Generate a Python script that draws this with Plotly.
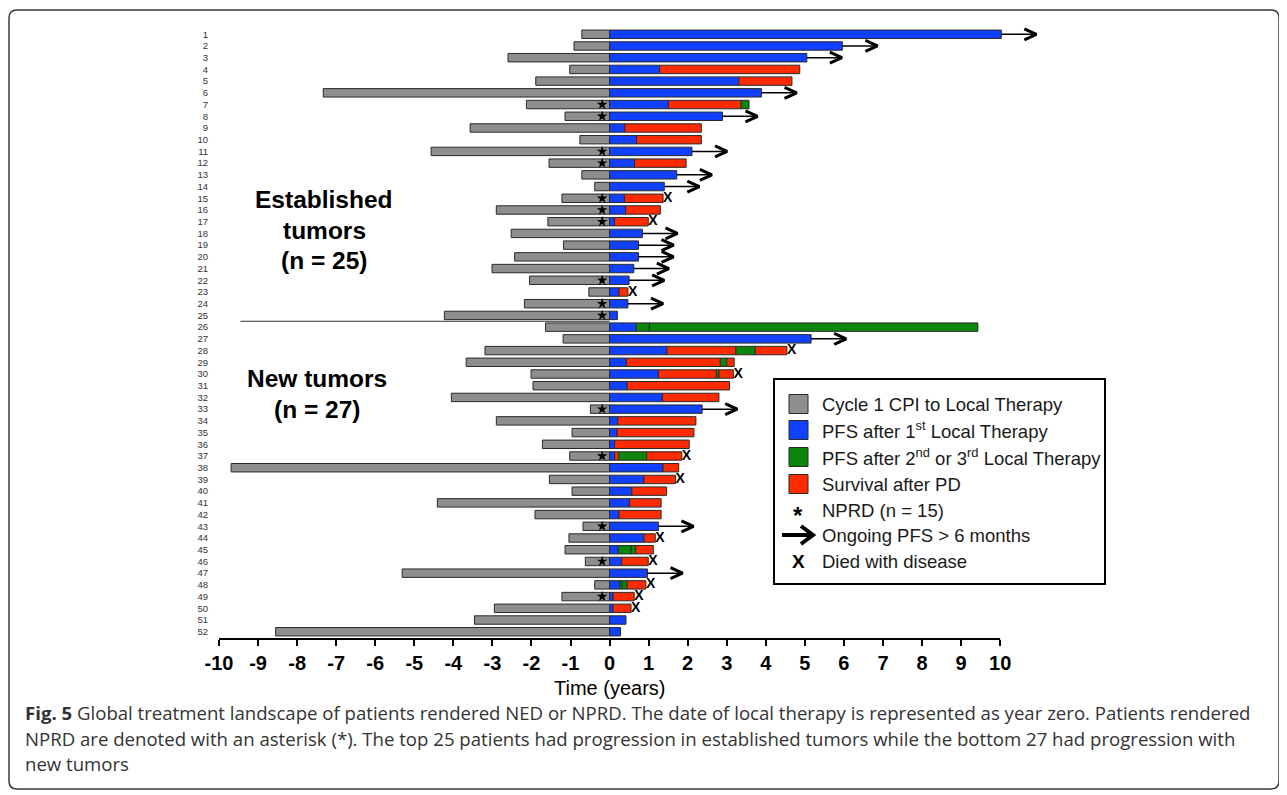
import plotly.graph_objects as go

# ---------------- data ----------------
patients = list(range(1, 53))
row_labels = [str(p) for p in patients]

# start of "Cycle 1 CPI to Local Therapy" (years before local therapy, negative)
cpi_start = [-0.71, -0.91, -2.60, -1.02, -1.89, -7.33, -2.13, -1.14, -3.57, -0.76,
             -4.57, -1.55, -0.71, -0.38, -1.22, -2.90, -1.58, -2.52, -1.18, -2.43,
             -3.01, -2.05, -0.53, -2.18, -4.23, -1.64, -1.19, -3.19, -3.67, -2.01,
             -1.96, -4.05, -0.49, -2.90, -0.96, -1.72, -1.02, -9.69, -1.54, -0.96,
             -4.41, -1.91, -0.68, -1.04, -1.14, -0.62, -5.31, -0.38, -1.22, -2.95,
             -3.46, -8.55]

# segments after local therapy: B = PFS after 1st LT, G = PFS after 2nd/3rd LT, R = survival after PD
seg_types = ["B", "B", "B", "BR", "BR", "B", "BRG", "B", "BR", "BR",
             "B", "BR", "B", "B", "BR", "BR", "BR", "B", "B", "B",
             "B", "B", "BR", "B", "B", "BGG", "B", "BRGR", "BRGR", "BRGR",
             "BR", "BR", "B", "BR", "BR", "BR", "BRGR", "BR", "BR", "BR",
             "BR", "BR", "B", "BR", "BGGR", "BR", "B", "BGGR", "BR", "BR",
             "B", "B"]
seg_ends = [[10.03], [5.96], [5.05], [1.28, 4.87], [3.31, 4.67], [3.89], [1.51, 3.36, 3.57],
            [2.89], [0.39, 2.35], [0.69, 2.35], [2.11], [0.64, 1.96], [1.72], [1.40],
            [0.38, 1.37], [0.41, 1.30], [0.13, 0.99], [0.84], [0.74], [0.74], [0.62],
            [0.50], [0.24, 0.47], [0.47], [0.20], [0.68, 1.02, 9.43], [5.16],
            [1.47, 3.23, 3.73, 4.54], [0.43, 2.83, 3.00, 3.19], [1.25, 2.73, 2.80, 3.17],
            [0.45, 3.07], [1.35, 2.80], [2.37], [0.21, 2.21], [0.19, 2.16], [0.13, 2.04],
            [0.13, 0.23, 0.95, 1.85], [1.37, 1.77], [0.88, 1.69], [0.57, 1.46], [0.51, 1.32],
            [0.24, 1.32], [1.25], [0.88, 1.17], [0.22, 0.55, 0.67, 1.12], [0.31, 0.99],
            [0.97], [0.26, 0.32, 0.45, 0.93], [0.09, 0.63], [0.09, 0.55], [0.42], [0.28]]

nprd_rows = [7, 8, 11, 12, 15, 16, 17, 22, 24, 25, 33, 37, 43, 46, 49]
ongoing_rows = [1, 2, 3, 6, 8, 11, 13, 14, 18, 19, 20, 21, 22, 24, 27, 33, 43, 47]
died_rows = [15, 17, 23, 28, 30, 37, 39, 44, 46, 48, 49, 50]

x_ticks = list(range(-10, 11))
group_split = 25.5

legend_labels = ["Cycle 1 CPI to Local Therapy",
                 "PFS after 1<sup>st</sup> Local Therapy",
                 "PFS after 2<sup>nd</sup> or 3<sup>rd</sup> Local Therapy",
                 "Survival after PD",
                 "NPRD (n = 15)",
                 "Ongoing PFS &gt; 6 months",
                 "Died with disease"]

caption_lines = [
    "<b>Fig. 5</b> Global treatment landscape of patients rendered NED or NPRD. The date of local therapy is represented as year zero. Patients rendered",
    "NPRD are denoted with an asterisk (*). The top 25 patients had progression in established tumors while the bottom 27 had progression with",
    "new tumors",
]

# ---------------- style ----------------
OFF = 8  # page body margin
W, H = 1287 - OFF, 795 - OFF
ML, MR, MT, MB = 219 - OFF, 240, 27 - OFF, 156
PW, PH = W - ML - MR, H - MT - MB
FONT = "Liberation Sans, Arial, sans-serif"
COL = {"K": "#8e8e8e", "B": "#1240ff", "G": "#0a870a", "R": "#ff2b00"}
EDGE = "#2a2a2a"
BW = 0.72
ARROW_LEN = 0.9


def px(xp):
    return (xp - OFF - ML) / PW


def py(yp):
    return (H - MB - (yp - OFF)) / PH


fig = go.Figure()

# gray bars
fig.add_trace(go.Bar(orientation="h", y=patients, base=cpi_start,
                     x=[-v for v in cpi_start], width=BW,
                     marker=dict(color=COL["K"], line=dict(color=EDGE, width=1)),
                     hoverinfo="skip", showlegend=False))

segs = {"B": ([], [], []), "G": ([], [], []), "R": ([], [], [])}
bar_end = []
for p, types, ends in zip(patients, seg_types, seg_ends):
    s = 0.0
    for t, e in zip(types, ends):
        segs[t][0].append(p)
        segs[t][1].append(s)
        segs[t][2].append(e - s)
        s = e
    bar_end.append(s)

for t in ["B", "G", "R"]:
    ys, bs, ls = segs[t]
    fig.add_trace(go.Bar(orientation="h", y=ys, base=bs, x=ls, width=BW,
                         marker=dict(color=COL[t], line=dict(color=EDGE, width=1)),
                         hoverinfo="skip", showlegend=False))

# NPRD stars
fig.add_trace(go.Scatter(x=[-0.19] * len(nprd_rows), y=nprd_rows, mode="markers",
                         marker=dict(symbol="star", size=8, color="black"),
                         hoverinfo="skip", showlegend=False))

# died X
fig.add_trace(go.Scatter(x=[bar_end[r - 1] for r in died_rows], y=died_rows, mode="text",
                         text=["X"] * len(died_rows), textposition="middle right",
                         textfont=dict(family=FONT, size=14, color="black", weight="bold"),
                         hoverinfo="skip", showlegend=False))

# ongoing arrows
sx, sy, cx, cy = [], [], [], []
for r in ongoing_rows:
    e = bar_end[r - 1]
    tip = e + ARROW_LEN
    sx += [e, tip, None]
    sy += [r, r, None]
    cx += [tip - 0.31, tip, tip - 0.31, None]
    cy += [r - 0.47, r, r + 0.47, None]
fig.add_trace(go.Scatter(x=sx, y=sy, mode="lines", line=dict(color="black", width=1.5),
                         hoverinfo="skip", showlegend=False))
fig.add_trace(go.Scatter(x=cx, y=cy, mode="lines", line=dict(color="black", width=3),
                         hoverinfo="skip", showlegend=False))

shapes = []
annotations = []

# x axis line (only -10..10)
shapes.append(dict(type="line", xref="x", yref="paper", x0=x_ticks[0], x1=x_ticks[-1],
                   y0=0, y1=0, line=dict(color="black", width=2)))
# group separator
shapes.append(dict(type="line", xref="x", yref="y", x0=-9.45, x1=0, y0=group_split,
                   y1=group_split, line=dict(color="#333333", width=1)))

# group labels
for txt, xc, yc in [("Established", 324, 199), ("tumors", 324, 230), ("(n = 25)", 324, 260),
                    ("New tumors", 317, 378), ("(n = 27)", 317, 409)]:
    annotations.append(dict(text=txt, xref="paper", yref="paper", x=px(xc), y=py(yc),
                            xanchor="center", yanchor="middle", showarrow=False,
                            font=dict(family=FONT, size=24.5, color="black", weight="bold")))

# x axis title
annotations.append(dict(text="Time (years)", xref="x", yref="paper", x=0, y=py(688),
                        xanchor="center", yanchor="middle", showarrow=False,
                        font=dict(family=FONT, size=20, color="black")))

# legend box
shapes.append(dict(type="rect", xref="paper", yref="paper", x0=px(774), x1=px(1105),
                   y0=py(379), y1=py(584), line=dict(color="black", width=2),
                   fillcolor="white", layer="above"))
item_y = [404, 430, 457, 484, 510, 535, 561]
for k, c in enumerate(["K", "B", "G", "R"]):
    yc = item_y[k]
    shapes.append(dict(type="rect", xref="paper", yref="paper", x0=px(789), x1=px(808),
                       y0=py(yc - 9.5), y1=py(yc + 9.5), fillcolor=COL[c],
                       line=dict(color=EDGE, width=1), layer="above"))
for lab, yc in zip(legend_labels, item_y):
    annotations.append(dict(text=lab, xref="paper", yref="paper", x=px(820), y=py(yc),
                            xanchor="left", yanchor="middle", showarrow=False,
                            font=dict(family=FONT, size=18.5, color="#1a1a1a")))
annotations.append(dict(text="*", xref="paper", yref="paper", x=px(798), y=py(515),
                        xanchor="center", yanchor="middle", showarrow=False,
                        font=dict(family=FONT, size=24, color="black", weight="bold")))
annotations.append(dict(text="X", xref="paper", yref="paper", x=px(798), y=py(561),
                        xanchor="center", yanchor="middle", showarrow=False,
                        font=dict(family=FONT, size=19, color="black", weight="bold")))
shapes.append(dict(type="line", xref="paper", yref="paper", x0=px(782), x1=px(810),
                   y0=py(535), y1=py(535), line=dict(color="black", width=4), layer="above"))
shapes.append(dict(type="path", xref="paper", yref="paper",
                   path="M %f,%f L %f,%f L %f,%f" % (px(801), py(526), px(813), py(535),
                                                     px(801), py(544)),
                   line=dict(color="black", width=4), layer="above"))

# caption
for txt, yc in zip(caption_lines, [712, 738, 763]):
    annotations.append(dict(text=txt, xref="paper", yref="paper", x=px(23), y=py(yc),
                            xanchor="left", yanchor="middle", showarrow=False,
                            font=dict(family="Open Sans, sans-serif", size=18.6, color="#333333")))

# rounded outer border
x0, x1, y0, y1, r = 9, 1279, 10, 789, 8
pts = [("M", x0 + r, y0), ("L", x1 - r, y0), ("Q", x1, y0, x1, y0 + r), ("L", x1, y1 - r),
       ("Q", x1, y1, x1 - r, y1), ("L", x0 + r, y1), ("Q", x0, y1, x0, y1 - r),
       ("L", x0, y0 + r), ("Q", x0, y0, x0 + r, y0)]
path = ""
for cmd in pts:
    c = cmd[0]
    vals = cmd[1:]
    coords = []
    for i in range(0, len(vals), 2):
        coords.append("%f,%f" % (px(vals[i]), py(vals[i + 1])))
    path += c + " " + " ".join(coords) + " "
path += "Z"
shapes.append(dict(type="path", xref="paper", yref="paper", path=path,
                   line=dict(color="#3a3a3a", width=1.5), layer="above"))

fig.update_layout(
    width=W, height=H,
    margin=dict(l=ML, r=MR, t=MT, b=MB, pad=0),
    paper_bgcolor="white", plot_bgcolor="white",
    barmode="overlay", showlegend=False,
    shapes=shapes, annotations=annotations,
    xaxis=dict(range=[-10, 11.2], tickvals=x_ticks, ticktext=[str(v) for v in x_ticks],
               ticks="outside", ticklen=6, tickwidth=1.5, tickcolor="black",
               showline=False, showgrid=False, zeroline=False,
               tickfont=dict(family=FONT, size=20, color="black", weight="bold"),
               ticklabelstandoff=0),
    yaxis=dict(range=[52.62, 0.38], tickvals=patients, ticktext=row_labels,
               ticks="", showline=False, showgrid=False, zeroline=False,
               tickfont=dict(family=FONT, size=9.5, color="#333333"),
               ticklabelstandoff=10),
)

fig.write_html("out.html")
